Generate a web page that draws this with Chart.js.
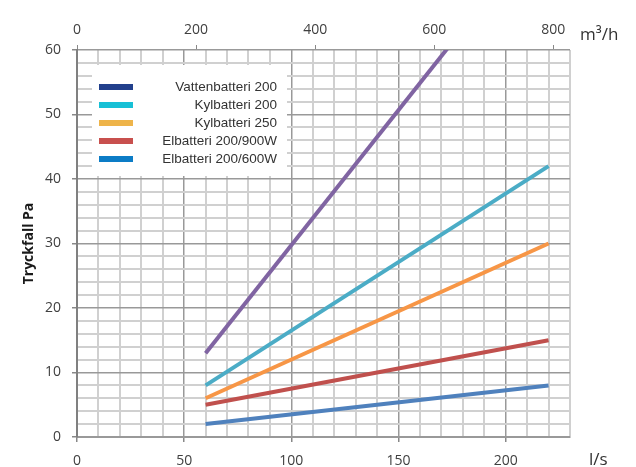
<!DOCTYPE html>
<html>
<head>
<meta charset="utf-8">
<script src="https://cdn.jsdelivr.net/npm/chart.js@4"></script>
<style>
  body { margin: 0; background: #fff; }
  #wrap { width: 636px; height: 467px; position: relative; }
</style>
</head>
<body>
<div id="wrap"><canvas id="tryckfall"></canvas></div>
<script>
// flow in l/s, pressure drop in Pa
const flowLs = [60, 220];
const vattenbatteri200 = [13, 80];
const kylbatteri200 = [8, 42];
const kylbatteri250 = [6, 30];
const elbatteri900 = [5, 15];
const elbatteri600 = [2, 8];

const seriesNames = ["Vattenbatteri 200", "Kylbatteri 200", "Kylbatteri 250", "Elbatteri 200/900W", "Elbatteri 200/600W"];
const lineColors = ["#8064a2", "#4bacc6", "#f79646", "#c0504d", "#4f81bd"];
const legendColors = ["#22408c", "#17c0d6", "#eeb44a", "#c8504e", "#0c7cc6"];

// tick labels of the m3/h axis on top
const topTicks = [0, 200, 400, 600, 800];

const seriesValues = [vattenbatteri200, kylbatteri200, kylbatteri250, elbatteri900, elbatteri600];
const M3H_PER_LS = 3.6;

const tickFont = { family: "Open Sans", size: 14 };

function toPoints(values) {
  return values.map((v, i) => ({ x: flowLs[i], y: v }));
}

// legend box sitting inside the plot, text right aligned
const legendBox = {
  id: "legendBox",
  beforeDatasetsDraw(chart) {
    const ctx = chart.ctx;
    ctx.save();
    ctx.fillStyle = "#fff";
    ctx.fillRect(92, 65, 195, 111);
    ctx.font = "13.5px 'Liberation Sans', Arial, sans-serif";
    ctx.textAlign = "right";
    ctx.textBaseline = "middle";
    seriesNames.forEach((name, i) => {
      const y = 87 + i * 18;
      ctx.fillStyle = legendColors[i];
      ctx.fillRect(99, y - 3, 34, 6);
      ctx.fillStyle = "#333";
      ctx.fillText(name, 277, y);
    });
    ctx.restore();
  },
  afterDraw(chart) {
    const ctx = chart.ctx;
    ctx.save();
    ctx.fillStyle = "#333";
    ctx.font = "17px 'Open Sans', sans-serif";
    ctx.textAlign = "left";
    ctx.textBaseline = "alphabetic";
    ctx.fillText("m³/h", 580, 40);
    ctx.fillText("l/s", 589, 465);
    ctx.restore();
  }
};

const datasets = seriesValues.map((vals, i) => ({
  label: seriesNames[i],
  data: toPoints(vals),
  borderColor: lineColors[i],
  borderWidth: 4,
  pointRadius: 0,
  fill: false,
}));

new Chart(document.getElementById("tryckfall"), {
  type: "line",
  data: { datasets: datasets },
  plugins: [legendBox],
  options: {
    responsive: true,
    maintainAspectRatio: false,
    animation: false,
    layout: { padding: { left: 0, right: 66, top: 0, bottom: 0 } },
    plugins: {
      legend: { display: false },
      tooltip: { enabled: false },
    },
    scales: {
      x: {
        type: "linear",
        position: "bottom",
        min: 0,
        max: 230,
        afterFit: (scale) => { scale.height = 30; },
        ticks: {
          stepSize: 10,
          autoSkip: false,
          maxRotation: 0,
          padding: 11,
          color: "#404040",
          font: tickFont,
          callback: (v) => (v % 50 === 0 ? v : ""),
        },
        grid: {
          color: (c) => (c.tick && c.tick.value % 50 === 0 ? "#999" : "#d0d0d0"),
          lineWidth: (c) => (c.tick && c.tick.value % 50 === 0 ? 1.5 : 2),
          tickLength: 5,
          tickColor: (c) => (c.tick && c.tick.value % 50 === 0 ? "#888" : "rgba(0,0,0,0)"),
        },
        border: { color: "#999", width: 2 },
      },
      xTop: {
        type: "linear",
        axis: "x",
        position: "top",
        min: 0,
        max: 230 * M3H_PER_LS,
        afterFit: (scale) => { scale.height = 50; },
        afterBuildTicks: (scale) => {
          scale.ticks = topTicks.map((v) => ({ value: v }));
        },
        ticks: {
          autoSkip: false,
          maxRotation: 0,
          padding: 7,
          color: "#404040",
          font: tickFont,
        },
        grid: {
          drawOnChartArea: false,
          tickLength: 5,
          tickColor: "#888",
        },
        border: { display: false },
      },
      y: {
        min: 0,
        max: 60,
        afterFit: (scale) => { scale.width = 77; },
        title: {
          display: true,
          text: "Tryckfall Pa",
          color: "#1a1a1a",
          font: { family: "Open Sans", size: 14, weight: "bold" },
          padding: { top: 21, bottom: 0 },
        },
        ticks: {
          stepSize: 2,
          autoSkip: false,
          padding: 11,
          color: "#404040",
          font: tickFont,
          callback: (v) => (v % 10 === 0 ? v : ""),
        },
        grid: {
          color: (c) => (c.tick && c.tick.value % 10 === 0 ? "#999" : "#d0d0d0"),
          lineWidth: (c) => (c.tick && c.tick.value % 10 === 0 ? 1.5 : 2),
          tickLength: 5,
          tickColor: (c) => (c.tick && c.tick.value % 10 === 0 ? "#888" : "rgba(0,0,0,0)"),
        },
        border: { color: "#808080", width: 2 },
      },
    },
  },
});
</script>
</body>
</html>
